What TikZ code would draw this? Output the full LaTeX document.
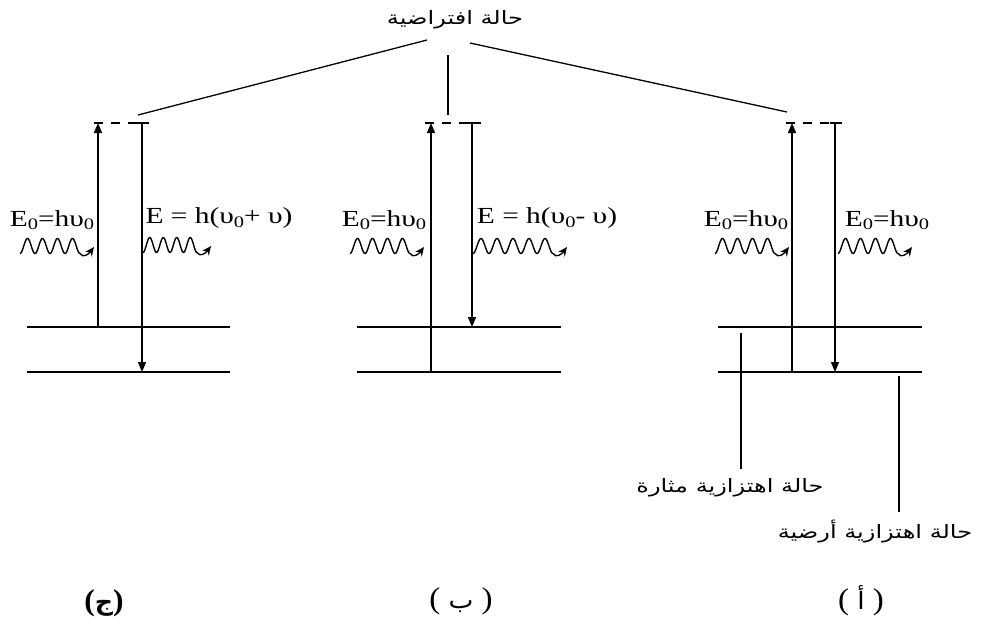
\documentclass[tikz,border=0pt]{standalone}
\usepackage{fontspec}
\setmainfont{Liberation Serif}
\newfontfamily\arabicfont[Script=Arabic]{DejaVu Sans}
\TeXXeTstate=1
\usetikzlibrary{arrows.meta}
\newcommand\lsub[1]{\raisebox{-0.35ex}{\fontsize{16}{16}\selectfont #1}}
\newcommand\wide[1]{\scalebox{1.28}[1]{#1}}
\newcommand\awide[1]{\scalebox{1.3}[1]{#1}}
\newcommand\photon[4]{% x0, yc, humps, period
  \pgfmathsetmacro\pxe{#1+#4*#3}%
  \pgfmathsetmacro\pxa{\pxe+3}\pgfmathsetmacro\pxb{\pxe+8}\pgfmathsetmacro\pxc{\pxe+14}%
  \draw[wave] plot[domain=0:#3,samples=90,smooth] ({#1+#4*\x},{#2+7.5*cos(360*\x)})
    .. controls (\pxa,#2+12) and (\pxb,#2+9) .. (\pxc,#2+1);}
\begin{document}
\begin{tikzpicture}[x=1pt,y=-1pt,
  lvl/.style={line width=1.6pt},
  trans/.style={line width=1.5pt,-{Triangle[length=10pt,width=8pt]}},
  lead/.style={line width=1.3pt},
  wave/.style={line width=1.4pt,-{Stealth[length=9pt,width=8pt]}},
  lab/.style={font=\fontsize{23}{25}\selectfont,inner sep=0pt},
  alab/.style={font=\arabicfont\fontsize{18.5}{20}\selectfont,inner sep=0pt},
  plab/.style={font=\fontsize{30}{32}\selectfont,inner sep=0pt},
  virt/.style={line width=1.5pt,dash pattern=on 9pt off 8pt}]
\useasboundingbox (0,0) rectangle (998,633);
% ---------- panel (ج)
\coordinate (c-vl) at (94,123); \coordinate (c-vr) at (149,123);
\coordinate (c-up0) at (98,327); \coordinate (c-up1) at (98,123);
\coordinate (c-dn0) at (142,123); \coordinate (c-dn1) at (142,372);
\coordinate (c-e1l) at (27,327); \coordinate (c-e1r) at (230,327);
\coordinate (c-e0l) at (27,372); \coordinate (c-e0r) at (230,372);
\draw[lvl] (c-e1l) -- (c-e1r); \draw[lvl] (c-e0l) -- (c-e0r);
\draw[virt] (c-vl) -- (c-vr); \draw[line width=1.5pt] (137,123) -- (c-vr);
\draw[trans] (c-up0) -- (c-up1); \draw[trans] (c-dn0) -- (c-dn1);
\node[lab] (c-in) at (52,220) {\wide{E\lsub{0}=hυ\lsub{0}}};
\node[lab] (c-out) at (219,218) {\wide{E = h(υ\lsub{0}+ υ)}};
\photon{20}{246}{4}{15}
\photon{143}{245}{4}{13.5}
% ---------- panel (ب)
\coordinate (b-vl) at (425,123); \coordinate (b-vr) at (481,123);
\coordinate (b-up0) at (431,372); \coordinate (b-up1) at (431,123);
\coordinate (b-dn0) at (472,123); \coordinate (b-dn1) at (472,327);
\coordinate (b-e1l) at (357,327); \coordinate (b-e1r) at (561,327);
\coordinate (b-e0l) at (357,372); \coordinate (b-e0r) at (561,372);
\draw[lvl] (b-e1l) -- (b-e1r); \draw[lvl] (b-e0l) -- (b-e0r);
\draw[virt] (b-vl) -- (b-vr); \draw[line width=1.5pt] (467,123) -- (b-vr);
\draw[trans] (b-up0) -- (b-up1); \draw[trans] (b-dn0) -- (b-dn1);
\node[lab] (b-in) at (384,220) {\wide{E\lsub{0}=hυ\lsub{0}}};
\node[lab] (b-out) at (547,218) {\wide{E = h(υ\lsub{0}- υ)}};
\photon{350}{246}{4}{15}
\photon{473}{246}{5}{16}
% ---------- panel (أ)
\coordinate (a-vl) at (786,123); \coordinate (a-vr) at (842,123);
\coordinate (a-up0) at (792,372); \coordinate (a-up1) at (792,123);
\coordinate (a-dn0) at (835,123); \coordinate (a-dn1) at (835,372);
\coordinate (a-e1l) at (718,327); \coordinate (a-e1r) at (922,327);
\coordinate (a-e0l) at (718,372); \coordinate (a-e0r) at (922,372);
\draw[lvl] (a-e1l) -- (a-e1r); \draw[lvl] (a-e0l) -- (a-e0r);
\draw[virt] (a-vl) -- (a-vr); \draw[line width=1.5pt] (830,123) -- (a-vr);
\draw[trans] (a-up0) -- (a-up1); \draw[trans] (a-dn0) -- (a-dn1);
\node[lab] (a-in) at (746,220) {\wide{E\lsub{0}=hυ\lsub{0}}};
\node[lab] (a-out) at (887,220) {\wide{E\lsub{0}=hυ\lsub{0}}};
\photon{715}{246}{4}{15}
\photon{838}{246}{4}{15}
% ---------- labels
\node[alab] (virtual) at (455,20) {\awide{\beginR حالة افتراضية\endR}};
\coordinate (v1) at (427,40); \coordinate (v1e) at (138,115);
\coordinate (v2) at (448,55); \coordinate (v2e) at (448,115);
\coordinate (v3) at (470,43); \coordinate (v3e) at (787,112);
\draw[lead] (v1) -- (v1e); \draw[lead] (v2) -- (v2e); \draw[lead] (v3) -- (v3e);
\node[alab] (excited) at (730,488) {\awide{\beginR حالة اهتزازية مثارة\endR}};
\node[alab] (ground) at (875,532) {\awide{\beginR حالة اهتزازية أرضية\endR}};
\coordinate (x1) at (741,333); \coordinate (x1e) at (741,469);
\coordinate (g1) at (899,376); \coordinate (g1e) at (899,512);
\draw[lead] (x1) -- (x1e); \draw[lead] (g1) -- (g1e);
\node[plab,font=\fontsize{30}{32}\selectfont\bfseries] (pc) at (104,603) {\scalebox{1.05}[1]{({\arabicfont\bfseries\fontsize{24}{26}\selectfont ج})}};
\node[plab] (pb) at (461,601) {\scalebox{1.1}[1]{(\ {\arabicfont\fontsize{24}{26}\selectfont ب}\ )}};
\node[plab] (pa) at (861,601) {\scalebox{1.1}[1]{(\ {\arabicfont\fontsize{24}{26}\selectfont أ}\ )}};
\end{tikzpicture}
\end{document}
